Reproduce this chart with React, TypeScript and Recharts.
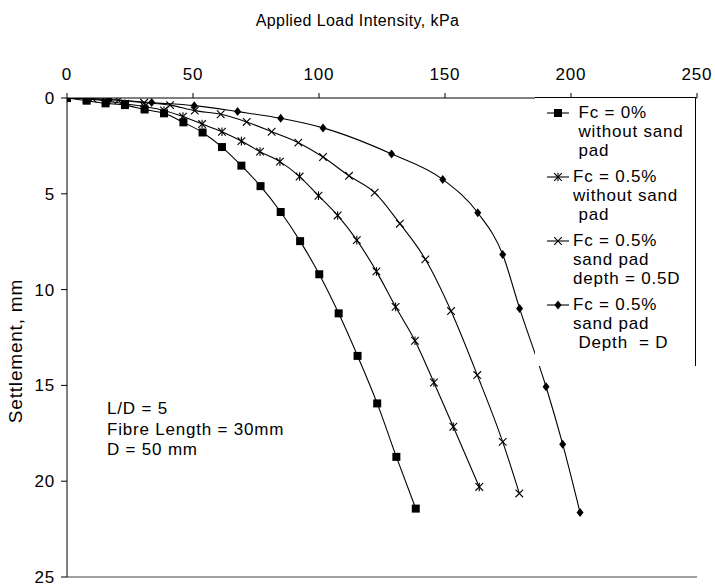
import React from "react"
import { LineChart, Line, XAxis, YAxis, ReferenceLine } from "recharts"

// Applied load (kPa) and settlement (mm)
const loadS1 = [0, 7.8, 15.3, 23, 30.8, 38.5, 46.2, 53.8, 61.5, 69.2, 76.8, 84.8, 92.5, 100.1, 107.8, 115.3, 123.1, 130.7, 138.4]
const settleS1 = [0, 0.14, 0.28, 0.37, 0.6, 0.8, 1.27, 1.8, 2.56, 3.53, 4.6, 5.95, 7.47, 9.2, 11.24, 13.46, 15.94, 18.73, 21.43]

const loadS2 = [0, 7.7, 15.4, 23, 30.8, 38.5, 46, 53.6, 61.5, 69.2, 76.6, 84.5, 92.3, 99.8, 107.4, 115, 122.8, 130.4, 138.1, 145.6, 153.3, 163.6]
const settleS2 = [0, 0.05, 0.15, 0.3, 0.45, 0.65, 0.97, 1.36, 1.76, 2.25, 2.8, 3.32, 4.1, 5.1, 6.13, 7.42, 9.05, 10.9, 12.67, 14.85, 17.16, 20.3]

const loadS3 = [0, 10.2, 20.4, 30.6, 40.9, 50.7, 61, 71.3, 81.2, 91.8, 101.6, 111.9, 122.1, 132.1, 142.2, 152.4, 162.8, 172.9, 179.5]
const settleS3 = [0, 0.04, 0.12, 0.25, 0.37, 0.66, 0.85, 1.25, 1.76, 2.33, 3.08, 4.06, 4.94, 6.56, 8.42, 11.12, 14.46, 17.95, 20.64]

const loadS4 = [0, 16.8, 33.6, 50.5, 67.7, 84.8, 101.6, 128.8, 149.1, 163, 172.9, 179.6, 190.1, 196.7, 203.6]
const settleS4 = [0, 0.08, 0.24, 0.4, 0.71, 1.06, 1.56, 2.92, 4.25, 5.99, 8.17, 10.98, 15.07, 18.07, 21.64]

const xTicks = [0, 50, 100, 150, 200, 250]
const yTicks = [0, 5, 10, 15, 20, 25]

const legendLines = [
  [" Fc = 0%", " without sand", " pad"],
  ["Fc = 0.5%", "without sand", " pad"],
  ["Fc = 0.5%", "sand pad", "depth = 0.5D"],
  ["Fc = 0.5%", "sand pad", " Depth  = D"],
]

const noteLines = ["L/D = 5", "Fibre Length = 30mm", "D = 50 mm"]

const toPoints = (xs: number[], ys: number[]) => xs.map((x, i) => ({ x, y: ys[i] }))

const series = [
  { key: "s1", data: toPoints(loadS1, settleS1), marker: "square" },
  { key: "s2", data: toPoints(loadS2, settleS2), marker: "star" },
  { key: "s3", data: toPoints(loadS3, settleS3), marker: "cross" },
  { key: "s4", data: toPoints(loadS4, settleS4), marker: "diamond" },
]

const font = "'Liberation Sans', Arial, sans-serif"

function Marker({ kind, cx, cy }: { kind: string; cx: number; cy: number }) {
  if (kind === "square") {
    return <rect x={cx - 4} y={cy - 4} width={8} height={8} fill="#000" />
  }
  if (kind === "diamond") {
    return <path d={`M${cx},${cy - 4.5} L${cx + 3.5},${cy} L${cx},${cy + 4.5} L${cx - 3.5},${cy} Z`} fill="#000" />
  }
  const r = 3.8
  return (
    <g stroke="#000" strokeWidth={1.1}>
      <line x1={cx - r} y1={cy - r} x2={cx + r} y2={cy + r} />
      <line x1={cx - r} y1={cy + r} x2={cx + r} y2={cy - r} />
      {kind === "star" && <line x1={cx} y1={cy - r - 0.5} x2={cx} y2={cy + r + 0.5} />}
    </g>
  )
}

const makeDot = (kind: string) => (props: any) => {
  const { cx, cy, index } = props
  if (cx == null || cy == null) return <g key={index} />
  return <Marker key={index} kind={kind} cx={cx} cy={cy} />
}

const textStyle: React.CSSProperties = {
  position: "absolute",
  fontFamily: font,
  color: "#000",
  whiteSpace: "pre",
  letterSpacing: "0.8px",
}

export default function App() {
  return (
    <div style={{ position: "absolute", left: 0, top: 0, width: 715, height: 587, background: "#fff" }}>
      <LineChart width={715} height={587} margin={{ top: 58, right: 18, left: 0, bottom: 10 }}>
        <XAxis
          type="number"
          dataKey="x"
          orientation="top"
          domain={[0, 250]}
          ticks={xTicks}
          height={40}
          tickSize={5}
          tickMargin={13}
          axisLine={{ stroke: "#000" }}
          tickLine={{ stroke: "#000" }}
          tick={{ fontSize: 17, fill: "#000", fontFamily: font, letterSpacing: 0.8 }}
          allowDataOverflow
        />
        <YAxis
          type="number"
          dataKey="y"
          reversed
          domain={[0, 25]}
          ticks={yTicks}
          width={67}
          tickSize={6}
          tickMargin={6}
          axisLine={{ stroke: "#000" }}
          tickLine={{ stroke: "#000" }}
          tick={{ fontSize: 17, fill: "#000", fontFamily: font, letterSpacing: 0.8 }}
          allowDataOverflow
        />
        <ReferenceLine y={25} stroke="#808080" strokeWidth={1.5} />
        {series.map((s) => (
          <Line
            key={s.key}
            data={s.data}
            dataKey="y"
            type="monotone"
            stroke="#000"
            strokeWidth={1.1}
            dot={makeDot(s.marker)}
            activeDot={false}
            isAnimationActive={false}
          />
        ))}
      </LineChart>

      {/* title */}
      <div style={{ ...textStyle, left: 0, width: 715, top: 12, textAlign: "center", fontSize: 16, letterSpacing: "0.4px" }}>
        Applied Load Intensity, kPa
      </div>

      {/* y axis title */}
      <div
        style={{
          ...textStyle,
          left: 15.5,
          top: 351,
          fontSize: 19,
          transform: "translate(-50%, -50%) rotate(-90deg)",
        }}
      >
        Settlement, mm
      </div>

      {/* notes */}
      <div style={{ ...textStyle, left: 107, top: 399, fontSize: 17, lineHeight: "20.5px" }}>
        {noteLines.map((l) => (
          <div key={l}>{l}</div>
        ))}
      </div>

      {/* legend */}
      <div
        style={{
          position: "absolute",
          left: 535,
          top: 97,
          width: 160,
          height: 268,
          background: "#fff",
          borderTop: "1px solid #000",
          borderRight: "1.5px solid #000",
        }}
      >
        {legendLines.map((lines, i) => (
          <div key={i} style={{ position: "absolute", left: 0, top: 5 + i * 64, width: 158 }}>
            <svg width={40} height={20} style={{ position: "absolute", left: 10, top: 0 }}>
              <line x1={2} y1={10} x2={24} y2={10} stroke="#000" strokeWidth={1.1} />
              <Marker kind={series[i].marker} cx={13} cy={10} />
            </svg>
            <div style={{ ...textStyle, left: 38, top: 0, fontSize: 17, lineHeight: "19px" }}>
              {lines.map((l, j) => (
                <div key={j}>{l}</div>
              ))}
            </div>
          </div>
        ))}
      </div>
    </div>
  )
}
